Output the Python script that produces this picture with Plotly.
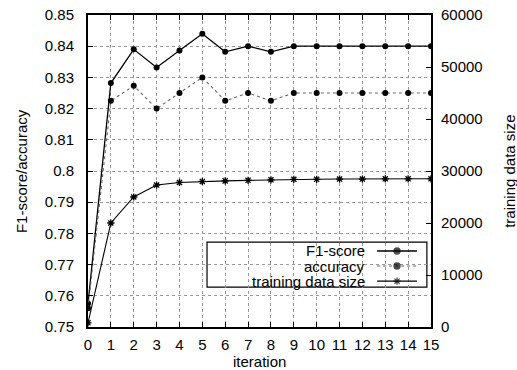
import plotly.graph_objects as go

iterations = list(range(16))
f1_score = [0.7575, 0.8282, 0.8390, 0.8332, 0.8386, 0.8440, 0.8382, 0.8400,
            0.8382, 0.8400, 0.8400, 0.8400, 0.8400, 0.8400, 0.8400, 0.8400]
accuracy = [0.7560, 0.8225, 0.8273, 0.8200, 0.8250, 0.8300, 0.8225, 0.8250,
            0.8225, 0.8250, 0.8250, 0.8250, 0.8250, 0.8250, 0.8250, 0.8250]
train_size = [800, 20000, 25000, 27300, 27800, 28000, 28100, 28200,
              28300, 28400, 28400, 28450, 28450, 28500, 28500, 28500]
legend_labels = ["F1-score", "accuracy", "training data size"]
y_ticks = [0.75, 0.76, 0.77, 0.78, 0.79, 0.8, 0.81, 0.82, 0.83, 0.84, 0.85]
y_ticktext = ["0.75", "0.76", "0.77", "0.78", "0.79", "0.8", "0.81",
              "0.82", "0.83", "0.84", "0.85"]
y2_ticks = [0, 10000, 20000, 30000, 40000, 50000, 60000]

FONT = "Liberation Sans, Arial, Helvetica, sans-serif"
fig = go.Figure()

fig.add_trace(go.Scatter(x=iterations, y=f1_score, mode="lines+markers",
                         line=dict(color="black", width=1.3),
                         marker=dict(symbol="circle", size=6, color="black"),
                         showlegend=False))
fig.add_trace(go.Scatter(x=iterations, y=accuracy, mode="lines+markers",
                         line=dict(color="#666666", width=1.1, dash="dot"),
                         marker=dict(symbol="circle", size=6, color="black"),
                         showlegend=False))
fig.add_trace(go.Scatter(x=iterations, y=train_size, mode="lines+markers",
                         yaxis="y2",
                         line=dict(color="black", width=1.1),
                         marker=dict(symbol="asterisk-open", size=6, color="black",
                                     line=dict(width=1.3, color="black")),
                         showlegend=False))

# custom gnuplot-style legend (samples on the right of the text)
rows_y = [0.2436, 0.1955, 0.147]
styles = [dict(color="black", width=1.3, dash="solid"),
          dict(color="#666666", width=1.1, dash="dot"),
          dict(color="black", width=1.1, dash="solid")]
syms = ["circle", "circle", "asterisk-open"]
for lab, ry, st, sy in zip(legend_labels, rows_y, styles, syms):
    fig.add_trace(go.Scatter(x=[0.843, 0.901, 0.959], y=[ry, ry, ry],
                             xaxis="x3", yaxis="y3", mode="lines+markers",
                             line=st,
                             marker=dict(symbol=sy, size=[0, 6, 0], color="black",
                                         line=dict(width=1.3, color="black")),
                             showlegend=False, hoverinfo="skip"))
    fig.add_annotation(x=0.813, y=ry, xref="paper", yref="paper", text=lab,
                       showarrow=False, xanchor="right", yanchor="middle",
                       font=dict(family=FONT, size=15, color="black"))
fig.add_shape(type="rect", xref="paper", yref="paper", x0=0.347, x1=0.988,
              y0=0.128, y1=0.272, line=dict(color="black", width=1.2),
              fillcolor="white", layer="between")

# axis titles
fig.add_annotation(x=0.5, y=-0.112, xref="paper", yref="paper", text="iteration",
                   showarrow=False, xanchor="center", yanchor="middle",
                   font=dict(family=FONT, size=15, color="black"))
fig.add_annotation(x=-0.195, y=0.5, xref="paper", yref="paper", text="F1-score/accuracy",
                   textangle=-90, showarrow=False, xanchor="center", yanchor="middle",
                   font=dict(family=FONT, size=15, color="black"))
fig.add_annotation(x=1.227, y=0.5, xref="paper", yref="paper", text="training data size",
                   textangle=-90, showarrow=False, xanchor="center", yanchor="middle",
                   font=dict(family=FONT, size=15, color="black"))

fig.update_layout(
    width=517, height=370,
    margin=dict(l=88, r=86, t=15, b=43),
    paper_bgcolor="white", plot_bgcolor="white",
    font=dict(family=FONT, size=15, color="black"),
    xaxis=dict(range=[0, 15], tickmode="array", tickvals=iterations,
               ticks="inside", ticklen=5, tickcolor="black", mirror="ticks",
               showline=True, linecolor="black", linewidth=2,
               showgrid=True, gridcolor="#999999", griddash="dot", gridwidth=1,
               zeroline=False, ticklabelstandoff=3, automargin=False),
    yaxis=dict(range=[0.75, 0.85], tickmode="array",
               tickvals=y_ticks, ticktext=y_ticktext,
               ticks="inside", ticklen=5, tickcolor="black",
               showline=True, linecolor="black", linewidth=2, mirror=True,
               showgrid=True, gridcolor="#999999", griddash="dot", gridwidth=1,
               zeroline=False, ticklabelstandoff=9, automargin=False),
    yaxis2=dict(range=[0, 60000], overlaying="y", side="right",
                tickmode="array", tickvals=y2_ticks, tickformat="d",
                ticks="inside", ticklen=5, tickcolor="black",
                showgrid=False, zeroline=False, showline=False,
                ticklabelstandoff=9, automargin=False),
    xaxis3=dict(range=[0, 1], overlaying="x", visible=False),
    yaxis3=dict(range=[0, 1], overlaying="y", visible=False),
)

fig.write_html("out.html", config={"displayModeBar": False},
               post_script="document.body.style.margin='0px';"
                           "document.body.style.overflow='hidden';")
